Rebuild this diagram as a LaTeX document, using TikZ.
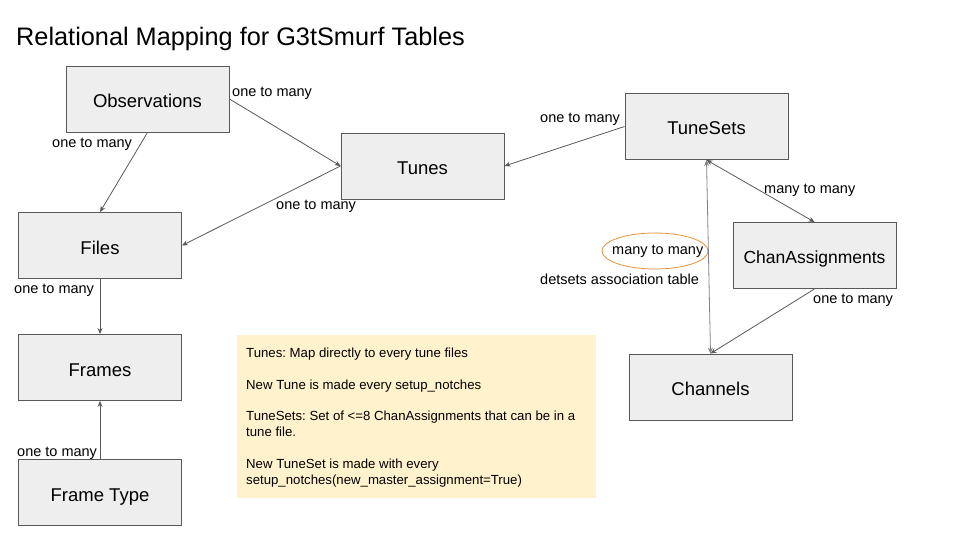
\documentclass[tikz,border=0pt]{standalone}
\usepackage{fontspec}
\setmainfont{Liberation Sans}
\usetikzlibrary{arrows.meta,shapes.geometric}
\definecolor{boxfill}{HTML}{EEEEEE}
\definecolor{boxline}{HTML}{595959}
\definecolor{notefill}{HTML}{FFF2CC}
\definecolor{ovalline}{HTML}{E69138}
\tikzset{
  entity/.style={draw=boxline, fill=boxfill, line width=0.9pt, minimum width=163pt, minimum height=66pt, inner sep=0pt, text height=17.5pt, text depth=0.5pt, font=\fontsize{18.5}{21}\selectfont},
  rel/.style={draw=boxline, line width=0.8pt, -{Stealth[length=6pt,width=5pt]}},
  birel/.style={draw=boxline, line width=0.8pt, {Stealth[length=6pt,width=5pt]}-{Stealth[length=6pt,width=5pt]}},
  lbl/.style={inner sep=0pt, font=\fontsize{14.5}{16}\selectfont, anchor=west},
}
\begin{document}
\frenchspacing
\begin{tikzpicture}[x=1pt,y=-1pt]
\useasboundingbox (0,0) rectangle (960,540);
\node[anchor=west, inner sep=0pt, font=\fontsize{25.3}{28}\selectfont] (title) at (16,39) {Relational Mapping for G3tSmurf Tables};

\node[entity] (obs) at (147.5,99) {Observations};
\node[entity] (tunes) at (422.5,166) {Tunes};
\node[entity] (tsets) at (706.5,126.5) {TuneSets};
\node[entity] (files) at (100,245.5) {Files};
\node[entity, font=\fontsize{17.5}{20}\selectfont, text height=17pt] (chan) at (814.5,255.5) {ChanAssignments};
\node[entity] (frames) at (100,367.5) {Frames};
\node[entity] (channels) at (710.5,387) {Channels};
\node[entity] (ftype) at (100,492.5) {Frame Type};

\node[draw=ovalline, line width=0.8pt, ellipse, minimum width=106pt, minimum height=36pt, inner sep=0pt] (oval) at (655,251) {};
\node[lbl] (l7) at (612,251.5) {many to many};
\node[lbl] (l8) at (540,279.5) {detsets association table};

\node[fill=notefill, minimum width=359pt, minimum height=163pt, inner sep=0pt] (note) at (416.5,416.5) {};
\node[anchor=north west, inner sep=0pt, align=left, font=\fontsize{13.2}{16}\selectfont] (notetext) at (246,348)
{Tunes: Map directly to every tune files\\[15.5pt]
New Tune is made every setup\_notches\\[15.5pt]
TuneSets: Set of <=8 ChanAssignments that can be in a\\
tune file.\\[15.5pt]
New TuneSet is made with every\\
setup\_notches(new\_master\_assignment=True)};

\draw[rel] (obs.east) -- (tunes.west);
\draw[rel] (tunes.west) -- (files.east);
\draw[rel] (obs.south) -- (files.north);
\draw[rel] (tsets.west) -- (tunes.east);
\draw[birel] (tsets.south) -- (chan.north);
\draw[birel, draw=boxline!75] (tsets.south) -- (channels.north);
\draw[rel] (chan.south) -- (channels.north);
\draw[rel] (files.south) -- (frames.north);
\draw[rel] (ftype.north) -- (frames.south);

\node[lbl] (l1) at (232,93) {one to many};
\node[lbl] (l2) at (52,144) {one to many};
\node[lbl] (l3) at (276,206) {one to many};
\node[lbl] (l4) at (540,119) {one to many};
\node[lbl] (l5) at (764,190) {many to many};
\node[lbl] (l6) at (813,300) {one to many};
\node[lbl] (l9) at (14,290) {one to many};
\node[lbl] (l10) at (17,453) {one to many};
\end{tikzpicture}
\end{document}
